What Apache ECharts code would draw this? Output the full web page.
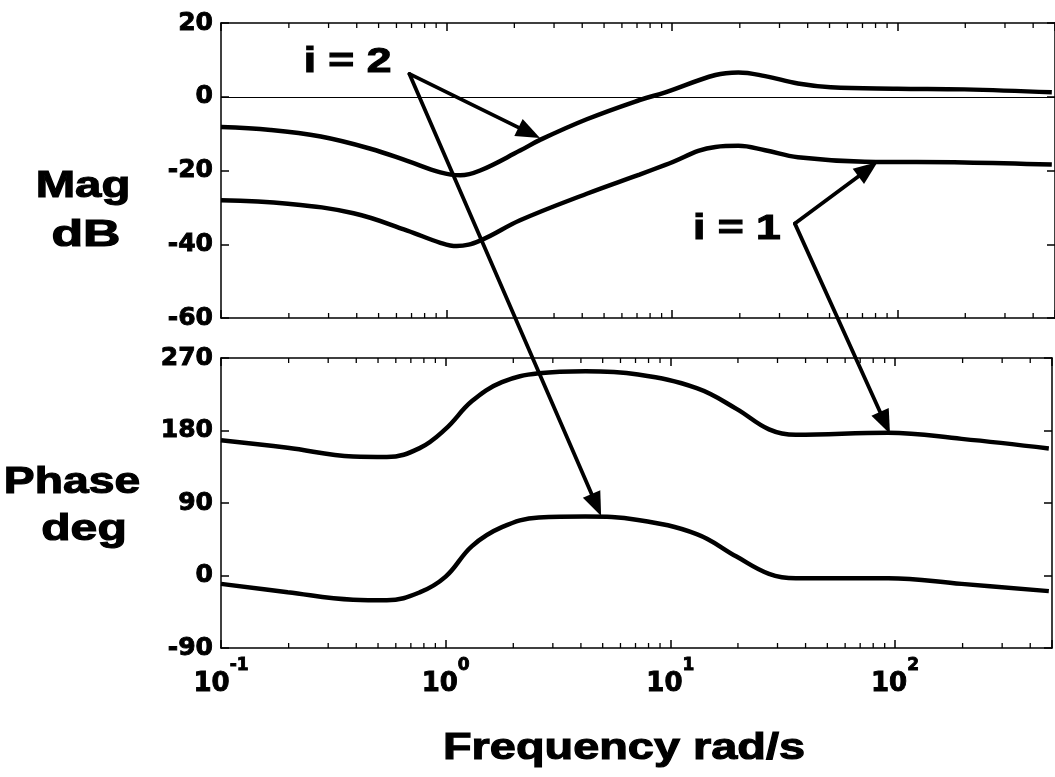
<!DOCTYPE html>
<html>
<head>
<meta charset="utf-8">
<title>Frequency response, i = 1 and i = 2</title>
<script src="https://cdn.jsdelivr.net/npm/echarts@6/dist/echarts.min.js"></script>
<style>
  html, body { margin: 0; padding: 0; background: #ffffff; }
  #chart { width: 1055px; height: 777px; }
</style>
</head>
<body>
<div id="chart"></div>
<script>
// ---- Frequency axis (rad/s) ----
const freqMin = 0.1;
const freqMax = 500;
const minorFreqs = [0.2, 0.3, 0.4, 0.5, 0.6, 0.7, 0.8, 0.9,
                    2, 3, 4, 5, 6, 7, 8, 9,
                    20, 30, 40, 50, 60, 70, 80, 90,
                    200, 300, 400];

// ---- Magnitude (dB) ----
const magTicks = [-60, -40, -20, 0, 20];
const magI2Freq = [0.1, 0.166, 0.277, 0.46, 0.67, 0.94, 1.15, 1.41, 2.12, 2.6, 4.19, 7.18, 9.35, 15.6, 19.7, 25.9, 36.2, 50.6, 100, 198, 484];
const magI2Db   = [-8.2, -9.0, -10.8, -14.1, -17.4, -20.5, -21.3, -20.0, -14.6, -11.7, -6.1, -0.9, 1.2, 5.9, 6.6, 5.6, 3.6, 2.6, 2.2, 2.0, 1.2];
const magI1Freq = [0.1, 0.198, 0.387, 0.67, 0.94, 1.11, 1.41, 2.12, 4.19, 7.18, 9.35, 15.6, 19.7, 25.9, 36.2, 71.6, 198, 484];
const magI1Db   = [-28.1, -29.0, -31.6, -36.3, -39.6, -40.5, -39.0, -33.5, -26.3, -21.1, -18.5, -13.6, -13.3, -14.5, -16.4, -17.6, -17.8, -18.4];

// ---- Phase (deg) ----
const phaseTicks = [-90, 0, 90, 180, 270];
const phaseFreq  = [0.1, 0.198, 0.387, 0.547, 0.766, 1.0, 1.31, 1.78, 2.6, 4.19, 7.18, 13.1, 19.7, 27.5, 36.2, 93.2, 198, 484];
const phaseI1Deg = [167.9, 158.5, 147.7, 147.1, 158.1, 182, 216.5, 240, 251, 253.5, 249.4, 232.6, 206.9, 181.4, 174.6, 177.1, 169.6, 157.7];
const phaseI2Deg = [-10.4, -20.8, -30.1, -30.8, -21, -1.4, 36.5, 60, 72, 73.2, 69, 51.4, 23.5, 2.1, -3.4, -3.3, -10.4, -19.4];

// ---- Callouts: [frequency, value] in the panel they point into ----
const labelI2At   = [0.364, 9.35];     // magnitude panel
const labelI1At   = [19.4, -35.9];     // magnitude panel
const tailI2      = [0.685, 6.2];      // magnitude panel
const headI2Mag   = [2.6, -11.2];      // magnitude panel
const headI2Phase = [4.92, 73.8];      // phase panel
const tailI1      = [35.1, -34.4];     // magnitude panel
const headI1Mag   = [81.7, -17.7];     // magnitude panel
const headI1Phase = [95, 175.9];       // phase panel

const zip = (xs, ys) => xs.map((x, i) => [x, ys[i]]);
const BLACK = '#000000';
const TICK_FONT = '"DejaVu Sans", "Liberation Sans", sans-serif';
const TEXT_FONT = '"Liberation Sans", Arial, sans-serif';

const chart = echarts.init(document.getElementById('chart'), null, { renderer: 'canvas' });

const lineStyleAxis = { color: BLACK, width: 1.5 };
const heavy = { textBorderColor: BLACK, textBorderWidth: 0.9 };

function xAxisDef(gridIndex, position, withLabels) {
  return {
    type: 'log',
    logBase: 10,
    gridIndex: gridIndex,
    position: position,
    min: freqMin,
    max: freqMax,
    axisLine: { show: true, onZero: false, lineStyle: lineStyleAxis },
    axisTick: { show: true, inside: true, length: 8, lineStyle: { color: BLACK, width: 1.5 } },
    splitLine: { show: false },
    minorTick: { show: false },
    axisLabel: withLabels ? {
      show: true,
      margin: 9,
      formatter: function (v) {
        const lg = Math.log10(v);
        const e = Math.round(lg);
        if (Math.abs(lg - e) > 1e-6) return '';
        return '{b|10}{s|' + e + '}';
      },
      rich: {
        b: Object.assign({ fontFamily: TICK_FONT, fontWeight: 'bold', fontSize: 26, color: BLACK, lineHeight: 54 }, heavy),
        s: Object.assign({ fontFamily: TICK_FONT, fontWeight: 'bold', fontSize: 17, color: BLACK, lineHeight: 28, verticalAlign: 'top' }, heavy)
      }
    } : { show: false }
  };
}

function yAxisDef(gridIndex, position, ticks, withLabels) {
  return {
    type: 'value',
    gridIndex: gridIndex,
    position: position,
    min: ticks[0],
    max: ticks[ticks.length - 1],
    interval: ticks[1] - ticks[0],
    axisLine: { show: true, onZero: false, lineStyle: lineStyleAxis },
    axisTick: { show: true, inside: true, length: 8, lineStyle: { color: BLACK, width: 1.5 } },
    splitLine: { show: false },
    axisLabel: withLabels ? Object.assign({
      show: true,
      margin: 8,
      fontFamily: TICK_FONT,
      fontWeight: 'bold',
      fontSize: 25,
      color: BLACK
    }, heavy) : { show: false }
  };
}

// Short inward ticks at the 2..9 subdivisions of each decade, on top and bottom edges
function minorTickRenderer(yLow, yHigh) {
  return function (params, api) {
    const f = api.value(0);
    const pb = api.coord([f, yLow]);
    const pt = api.coord([f, yHigh]);
    const st = { stroke: BLACK, lineWidth: 1.3 };
    return {
      type: 'group',
      children: [
        { type: 'line', shape: { x1: pb[0], y1: pb[1], x2: pb[0], y2: pb[1] - 5 }, style: st },
        { type: 'line', shape: { x1: pt[0], y1: pt[1], x2: pt[0], y2: pt[1] + 5 }, style: st }
      ]
    };
  };
}

function curve(name, xi, yi, data, extra) {
  return Object.assign({
    type: 'line',
    name: name,
    xAxisIndex: xi,
    yAxisIndex: yi,
    data: data,
    showSymbol: false,
    smooth: 0.4,
    lineStyle: { color: BLACK, width: 4.5 },
    z: 5,
    silent: true
  }, extra || {});
}

const option = {
  animation: false,
  backgroundColor: '#ffffff',
  grid: [
    { left: 221, top: 23, width: 837, height: 295 },
    { left: 221, top: 358, width: 837, height: 290 }
  ],
  xAxis: [
    xAxisDef(0, 'bottom', false),
    xAxisDef(0, 'top', false),
    xAxisDef(1, 'bottom', true),
    xAxisDef(1, 'top', false)
  ],
  yAxis: [
    yAxisDef(0, 'left', magTicks, true),
    yAxisDef(0, 'right', magTicks, false),
    yAxisDef(1, 'left', phaseTicks, true),
    yAxisDef(1, 'right', phaseTicks, false)
  ],
  series: [
    curve('i = 2 magnitude', 0, 0, zip(magI2Freq, magI2Db), {
      markLine: {
        silent: true,
        symbol: ['none', 'none'],
        label: { show: false },
        lineStyle: { color: BLACK, width: 1.2, type: 'solid' },
        data: [{ yAxis: 0 }]
      }
    }),
    curve('i = 1 magnitude', 0, 0, zip(magI1Freq, magI1Db)),
    curve('i = 1 phase', 2, 2, zip(phaseFreq, phaseI1Deg)),
    curve('i = 2 phase', 2, 2, zip(phaseFreq, phaseI2Deg)),
    {
      type: 'custom', name: 'mag minor ticks', xAxisIndex: 0, yAxisIndex: 0, silent: true, clip: false,
      data: minorFreqs.map(f => [f, magTicks[0]]),
      renderItem: minorTickRenderer(magTicks[0], magTicks[magTicks.length - 1])
    },
    {
      type: 'custom', name: 'phase minor ticks', xAxisIndex: 2, yAxisIndex: 2, silent: true, clip: false,
      data: minorFreqs.map(f => [f, phaseTicks[0]]),
      renderItem: minorTickRenderer(phaseTicks[0], phaseTicks[phaseTicks.length - 1])
    }
  ]
};

chart.setOption(option);

// ---- Callout arrows, labels and axis titles ----
const toPx = (gridIndex, pt) => chart.convertToPixel({ gridIndex: gridIndex }, pt);

function arrow(p0, p1) {
  const dx = p1[0] - p0[0], dy = p1[1] - p0[1];
  const L = Math.hypot(dx, dy), ux = dx / L, uy = dy / L;
  const headL = 24, headW = 9.5;
  const bx = p1[0] - ux * headL, by = p1[1] - uy * headL;
  return [
    { type: 'line', silent: true, z: 20,
      shape: { x1: p0[0], y1: p0[1], x2: bx + ux * 2, y2: by + uy * 2 },
      style: { stroke: BLACK, lineWidth: 3.8, lineCap: 'round' } },
    { type: 'polygon', silent: true, z: 20,
      shape: { points: [[p1[0], p1[1]], [bx - uy * headW, by + ux * headW], [bx + uy * headW, by - ux * headW]] },
      style: { fill: BLACK } }
  ];
}

function stretchedText(text, x, y, size, sx) {
  return {
    type: 'text', silent: true, z: 20, x: x, y: y, scaleX: sx,
    style: {
      text: text, fill: BLACK, stroke: BLACK, lineWidth: 1.1,
      fontFamily: TEXT_FONT, fontWeight: 'bold', fontSize: size,
      align: 'center', verticalAlign: 'middle'
    }
  };
}

const t2 = toPx(0, tailI2);
const t1 = toPx(0, tailI1);
const l2 = toPx(0, labelI2At);
const l1 = toPx(0, labelI1At);

const graphics = []
  .concat(arrow(t2, toPx(0, headI2Mag)))
  .concat(arrow(t2, toPx(1, headI2Phase)))
  .concat(arrow(t1, toPx(0, headI1Mag)))
  .concat(arrow(t1, toPx(1, headI1Phase)))
  .concat([
    stretchedText('i = 2', l2[0], l2[1], 35, 1.27),
    stretchedText('i = 1', l1[0], l1[1], 35, 1.27),
    stretchedText('Mag', 83, 187, 37, 1.28),
    stretchedText('dB', 86, 236, 37, 1.4),
    stretchedText('Phase', 72, 483, 37, 1.25),
    stretchedText('deg', 84, 530, 37, 1.3),
    stretchedText('Frequency rad/s', 624, 749, 37.5, 1.25)
  ]);

chart.setOption({ graphic: graphics });
</script>
</body>
</html>
